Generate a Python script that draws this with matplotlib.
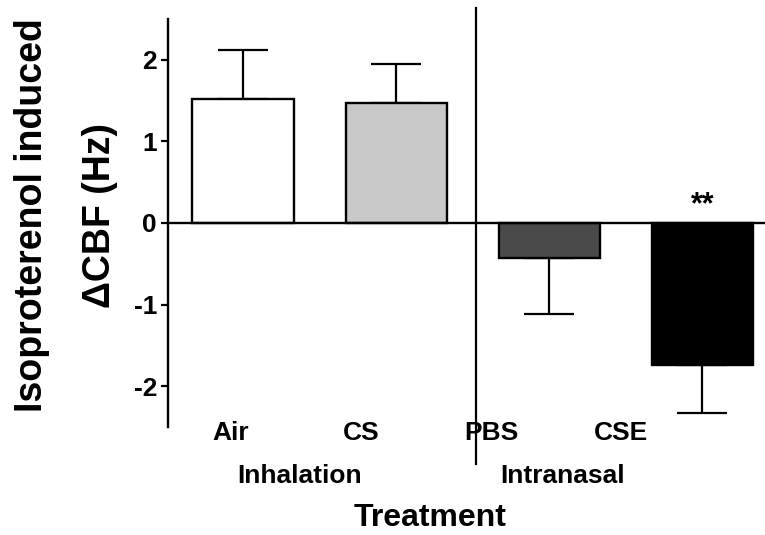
import matplotlib
matplotlib.use('Agg')
import matplotlib.pyplot as plt

# bar values
GROUPS = ['Air', 'CS', 'PBS', 'CSE']
MEANS = [1.52, 1.47, -0.43, -1.74]
SEMS = [0.60, 0.48, 0.68, 0.59]
COLORS = ['white', '#c8c8c8', '#4a4a4a', 'black']
ROUTES = ['Inhalation', 'Intranasal']
YTICKS = [-2, -1, 0, 1, 2]

FONT = ['Liberation Sans', 'DejaVu Sans']


def main():
    plt.rcParams['font.family'] = FONT
    plt.rcParams['font.weight'] = 'bold'

    fig = plt.figure(figsize=(7.65, 5.35), dpi=100)
    ax = fig.add_axes([0.2196, 0.2019, 0.7804, 0.7626])

    x = list(range(len(GROUPS)))
    # one-sided error bars: up for positive bars, down for negative ones
    lower = [s if m < 0 else 0 for m, s in zip(MEANS, SEMS)]
    upper = [s if m >= 0 else 0 for m, s in zip(MEANS, SEMS)]
    ax.errorbar(x, MEANS, yerr=[lower, upper], fmt='none', ecolor='black',
                elinewidth=1.6, capsize=18, capthick=1.6, zorder=1)
    ax.bar(x, MEANS, width=0.66, color=COLORS, edgecolor='black',
           linewidth=1.7, zorder=2)

    ax.axhline(0, color='black', linewidth=1.7, zorder=3)
    # separator between the two treatment routes
    ax.plot([1.52, 1.52], [2.63, -2.95], color='black', linewidth=1.6,
            clip_on=False, zorder=3)

    ax.text(x[3], 0.22, '**', ha='center', va='center', fontsize=22,
            fontweight='bold')

    ax.set_xlim(-0.49, 3.41)
    ax.set_ylim(-2.5, 2.5)
    ax.set_yticks(YTICKS)
    ax.set_yticklabels([str(t) for t in YTICKS], fontsize=19, fontweight='bold')
    ax.tick_params(axis='y', length=5, width=1.6, pad=3)

    # group labels sit a little left of their bars in the original
    ax.set_xticks([-0.08, 0.77, 1.62, 2.47])
    ax.set_xticklabels(GROUPS, fontsize=19, fontweight='bold')
    ax.tick_params(axis='x', length=0, pad=-4)

    ax.text(0.37, -3.1, ROUTES[0], ha='center', va='center', fontsize=19,
            fontweight='bold')
    ax.text(2.09, -3.1, ROUTES[1], ha='center', va='center', fontsize=19,
            fontweight='bold')
    ax.text(1.22, -3.62, 'Treatment', ha='center', va='center', fontsize=23,
            fontweight='bold')

    for side in ['top', 'right', 'bottom']:
        ax.spines[side].set_visible(False)
    ax.spines['left'].set_linewidth(1.7)

    fig.text(0.042, 0.598, 'Isoproterenol induced', rotation=90, ha='center',
             va='center', fontsize=27, fontweight='bold')
    fig.text(0.131, 0.598, '\u0394CBF (Hz)', rotation=90, ha='center',
             va='center', fontsize=27, fontweight='bold')

    fig.savefig('out.png', dpi=100)


if __name__ == '__main__':
    main()
